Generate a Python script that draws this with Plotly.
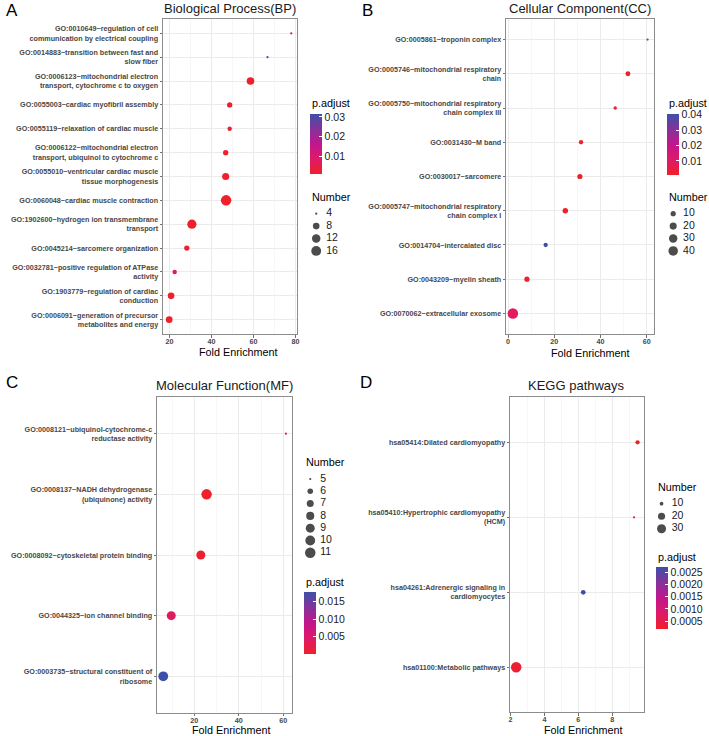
import math
import plotly.graph_objects as go

# ---------------- data ----------------
bp_terms = [
    "GO:0010649~regulation of cell<br>communication by electrical coupling",
    "GO:0014883~transition between fast and<br>slow fiber",
    "GO:0006123~mitochondrial electron<br>transport, cytochrome c to oxygen",
    "GO:0055003~cardiac myofibril assembly",
    "GO:0055119~relaxation of cardiac muscle",
    "GO:0006122~mitochondrial electron<br>transport, ubiquinol to cytochrome c",
    "GO:0055010~ventricular cardiac muscle<br>tissue morphogenesis",
    "GO:0060048~cardiac muscle contraction",
    "GO:1902600~hydrogen ion transmembrane<br>transport",
    "GO:0045214~sarcomere organization",
    "GO:0032781~positive regulation of ATPase<br>activity",
    "GO:1903779~regulation of cardiac<br>conduction",
    "GO:0006091~generation of precursor<br>metabolites and energy",
]
bp_fold = [78.0, 66.7, 58.6, 48.7, 48.7, 46.8, 46.8, 47.0, 30.7, 28.3, 22.5, 20.8, 19.9]
bp_count = [4, 4, 10, 6, 5, 6, 9, 18, 14, 6, 5, 8, 8]
bp_padj = [0.0175, 0.0315, 0.0012, 0.0016, 0.0022, 0.0014, 0.0010, 0.0008, 0.0009,
           0.0018, 0.0085, 0.0013, 0.0011]
bp_size_breaks = [4, 8, 12, 16]
bp_color_ticks = [0.01, 0.02, 0.03]

cc_terms = [
    "GO:0005861~troponin complex",
    "GO:0005746~mitochondrial respiratory<br>chain",
    "GO:0005750~mitochondrial respiratory<br>chain complex III",
    "GO:0031430~M band",
    "GO:0030017~sarcomere",
    "GO:0005747~mitochondrial respiratory<br>chain complex I",
    "GO:0014704~intercalated disc",
    "GO:0043209~myelin sheath",
    "GO:0070062~extracellular exosome",
]
cc_fold = [60.4, 51.9, 46.4, 31.6, 31.1, 24.8, 16.3, 8.2, 2.1]
cc_count = [4, 9, 5, 7, 10, 11, 7, 10, 50]
cc_padj = [0.0380, 0.0012, 0.0020, 0.0015, 0.0008, 0.0011, 0.0405, 0.0014, 0.0088]
cc_size_breaks = [10, 20, 30, 40]
cc_color_ticks = [0.01, 0.02, 0.03, 0.04]

mf_terms = [
    "GO:0008121~ubiquinol-cytochrome-c<br>reductase activity",
    "GO:0008137~NADH dehydrogenase<br>(ubiquinone) activity",
    "GO:0008092~cytoskeletal protein binding",
    "GO:0044325~ion channel binding",
    "GO:0003735~structural constituent of<br>ribosome",
]
mf_fold = [61.2, 25.5, 22.9, 9.6, 6.0]
mf_count = [5, 11, 9, 9, 10]
mf_padj = [0.0008, 0.0001, 0.0006, 0.0040, 0.0179]
mf_size_breaks = [5, 6, 7, 8, 9, 10, 11]
mf_color_ticks = [0.005, 0.010, 0.015]

kegg_terms = [
    "hsa05414:Dilated cardiomyopathy",
    "hsa05410:Hypertrophic cardiomyopathy<br>(HCM)",
    "hsa04261:Adrenergic signaling in<br>cardiomyocytes",
    "hsa01100:Metabolic pathways",
]
kegg_fold = [9.50, 9.29, 6.29, 2.33]
kegg_count = [11, 9, 12, 40]
kegg_padj = [0.00019, 0.00075, 0.00273, 0.00030]
kegg_size_breaks = [10, 20, 30]
kegg_color_ticks = [0.0005, 0.0010, 0.0015, 0.0020, 0.0025]

panel_titles = ["Biological Process(BP)", "Cellular Component(CC)",
                "Molecular Function(MF)", "KEGG pathways"]
panel_letters = ["A", "B", "C", "D"]

# ---------------- styling / layout ----------------
W, H = 709, 736
FONT = "Liberation Sans, Arial, Helvetica, sans-serif"
GREY_TXT = "#474747"
COLORSCALE = [[0.0, "#F0202A"], [0.25, "#DE1A68"], [0.5, "#C2168C"],
              [0.75, "#85329A"], [1.0, "#3D50A9"]]


def px(x):
    return x / W


def py(y):
    return 1 - y / H


def size_of(v, vmin, vmax, dmin=2.2, dmax=10.5):
    return dmin + (dmax - dmin) * math.sqrt((v - vmin) / (vmax - vmin))


panels = [
    dict(terms=bp_terms, fold=bp_fold, count=bp_count, padj=bp_padj,
         breaks=bp_size_breaks, cticks=bp_color_ticks, cfmt=".2f",
         box=(162, 19, 297, 334), dtick=20, minor=10,
         title_xy=(229.5, 8.5), letter_xy=(2, 10), xtitle_xy=(237.5, 352),
         num_title=(310, 196.7), items=(213.7, 12.4), circ_x=316, lab_x=326,
         pad_title=(309.5, 102.7), cb=(309.5, 114, 60)),
    dict(terms=cc_terms, fold=cc_fold, count=cc_count, padj=cc_padj,
         breaks=cc_size_breaks, cticks=cc_color_ticks, cfmt=".2f",
         box=(507, 19, 656, 334), dtick=20, minor=10,
         title_xy=(581.2, 8.5), letter_xy=(360, 10), xtitle_xy=(591.7, 352.5),
         num_title=(669, 196.7), items=(213.7, 12.4), circ_x=675, lab_x=685,
         pad_title=(668.3, 103.3), cb=(668.3, 114, 61)),
    dict(terms=mf_terms, fold=mf_fold, count=mf_count, padj=mf_padj,
         breaks=mf_size_breaks, cticks=mf_color_ticks, cfmt=".3f",
         box=(156, 397.3, 291.7, 712.7), dtick=20, minor=10,
         title_xy=(224, 385.5), letter_xy=(2, 382.5), xtitle_xy=(230.5, 730),
         num_title=(304, 461.7), items=(479, 12.3), circ_x=310, lab_x=320,
         pad_title=(303.7, 581.7), cb=(303.7, 591.7, 62.3)),
    dict(terms=kegg_terms, fold=kegg_fold, count=kegg_count, padj=kegg_padj,
         breaks=kegg_size_breaks, cticks=kegg_color_ticks, cfmt=".4f",
         box=(511, 397.3, 645.3, 712.3), dtick=2, minor=1,
         title_xy=(578, 385.5), letter_xy=(358, 382.5), xtitle_xy=(584.8, 729.5),
         num_title=(657.7, 486.7), items=(503.7, 12.5), circ_x=663.3, lab_x=673.5,
         pad_title=(657.7, 556.7), cb=(657.7, 566.7, 62.3)),
]

fig = go.Figure()
annotations = []
layout_axes = {}

for i, p in enumerate(panels, start=1):
    vmin, vmax = min(p["count"]), max(p["count"])
    sizes = [size_of(c, vmin, vmax) for c in p["count"]]
    cbx, cby, cblen = p["cb"]
    fig.add_trace(go.Scatter(
        x=p["fold"], y=p["terms"], mode="markers",
        xaxis=f"x{i}", yaxis=f"y{i}", showlegend=False, cliponaxis=False,
        marker=dict(size=sizes, color=p["padj"], colorscale=COLORSCALE,
                    line=dict(width=0), opacity=1, showscale=True,
                    colorbar=dict(
                        x=px(cbx), xanchor="left", xpad=0,
                        y=py(cby), yanchor="top", ypad=0,
                        lenmode="pixels", len=cblen,
                        thicknessmode="pixels", thickness=12,
                        outlinewidth=0, ticks="inside", ticklen=3,
                        tickcolor="white", tickwidth=1,
                        tickvals=p["cticks"], tickformat=p["cfmt"],
                        tickfont=dict(family=FONT, size=10.5, color="#1A1A1A"),
                    )),
    ))

    fmin, fmax = min(p["fold"]), max(p["fold"])
    span = fmax - fmin
    x0, y0, x1, y1 = p["box"]
    n = len(p["terms"])
    tickfont = dict(family=FONT, size=7.2, color=GREY_TXT, weight="bold")
    layout_axes[f"xaxis{i}"] = dict(
        domain=[px(x0), px(x1)], anchor=f"y{i}",
        range=[fmin - 0.05 * span, fmax + 0.05 * span],
        tick0=0, dtick=p["dtick"], showgrid=True, gridcolor="#EBEBEB", gridwidth=1,
        minor=dict(dtick=p["minor"], tick0=0, showgrid=True, gridcolor="#F4F4F4",
                   gridwidth=0.7, ticks=""),
        showline=True, mirror=True, linecolor="#8C8C8C", linewidth=1,
        ticks="outside", ticklen=2.5, tickwidth=0.8, tickcolor="#4D4D4D",
        ticklabelstandoff=-2,
        tickfont=tickfont, zeroline=False, fixedrange=True,
    )
    layout_axes[f"yaxis{i}"] = dict(
        domain=[py(y1), py(y0)], anchor=f"x{i}",
        type="category", categoryorder="array", categoryarray=p["terms"][::-1],
        range=[-0.6, n - 0.4],
        showgrid=True, gridcolor="#EBEBEB", gridwidth=1,
        showline=True, mirror=True, linecolor="#8C8C8C", linewidth=1,
        ticks="outside", ticklen=2.5, tickwidth=0.8, tickcolor="#4D4D4D",
        tickfont=tickfont, zeroline=False, fixedrange=True,
    )

    # ---- size legend on its own auxiliary axes ----
    j = 4 + i
    nb = len(p["breaks"])
    first, sp = p["items"]
    last = first + sp * (nb - 1)
    cx = p["circ_x"]
    layout_axes[f"xaxis{j}"] = dict(domain=[px(cx - 10), px(cx + 30)], range=[0, 40],
                                    visible=False, anchor=f"y{j}", fixedrange=True)
    layout_axes[f"yaxis{j}"] = dict(domain=[py(last + sp / 2), py(first - sp / 2)],
                                    range=[nb - 0.5, -0.5], visible=False,
                                    anchor=f"x{j}", fixedrange=True)
    fig.add_trace(go.Scatter(
        x=[10] * nb, y=list(range(nb)), mode="markers", xaxis=f"x{j}", yaxis=f"y{j}",
        showlegend=False, cliponaxis=False, hoverinfo="skip",
        marker=dict(size=[size_of(b, vmin, vmax) for b in p["breaks"]],
                    color="black", line=dict(width=0)),
    ))
    fig.add_trace(go.Scatter(
        x=[10 + (p["lab_x"] - cx)] * nb, y=list(range(nb)), mode="text",
        xaxis=f"x{j}", yaxis=f"y{j}", showlegend=False, cliponaxis=False,
        hoverinfo="skip", text=[str(b) for b in p["breaks"]],
        textposition="middle right",
        textfont=dict(family=FONT, size=10.5, color="#1A1A1A"),
    ))

    # ---- texts ----
    tx, ty = p["title_xy"]
    annotations.append(dict(text=panel_titles[i - 1], x=px(tx), y=py(ty), xref="paper",
                            yref="paper", xanchor="center", yanchor="middle",
                            showarrow=False, font=dict(family=FONT, size=13, color="#1A1A1A")))
    lx, ly = p["letter_xy"]
    annotations.append(dict(text=panel_letters[i - 1], x=px(lx), y=py(ly), xref="paper",
                            yref="paper", xanchor="left", yanchor="middle",
                            showarrow=False, font=dict(family=FONT, size=17, color="#000000")))
    ax, ay = p["xtitle_xy"]
    annotations.append(dict(text="Fold Enrichment", x=px(ax), y=py(ay), xref="paper",
                            yref="paper", xanchor="center", yanchor="middle",
                            borderpad=0, showarrow=False,
                            font=dict(family=FONT, size=10.8, color="#000000")))
    nx, ny = p["num_title"]
    annotations.append(dict(text="Number", x=px(nx), y=py(ny), xref="paper",
                            yref="paper", xanchor="left", yanchor="middle",
                            showarrow=False, font=dict(family=FONT, size=10.8, color="#000000")))
    qx, qy = p["pad_title"]
    annotations.append(dict(text="p.adjust", x=px(qx), y=py(qy), xref="paper",
                            yref="paper", xanchor="left", yanchor="middle",
                            showarrow=False, font=dict(family=FONT, size=10.8, color="#000000")))

fig.update_layout(
    width=W, height=H, margin=dict(l=0, r=0, t=0, b=0),
    paper_bgcolor="white", plot_bgcolor="white",
    font=dict(family=FONT), showlegend=False,
    annotations=annotations, **layout_axes,
)

fig.write_html(
    "out.html",
    config={"displayModeBar": False, "staticPlot": True},
    post_script="document.body.style.margin='0px';document.body.style.overflow='hidden';",
)
